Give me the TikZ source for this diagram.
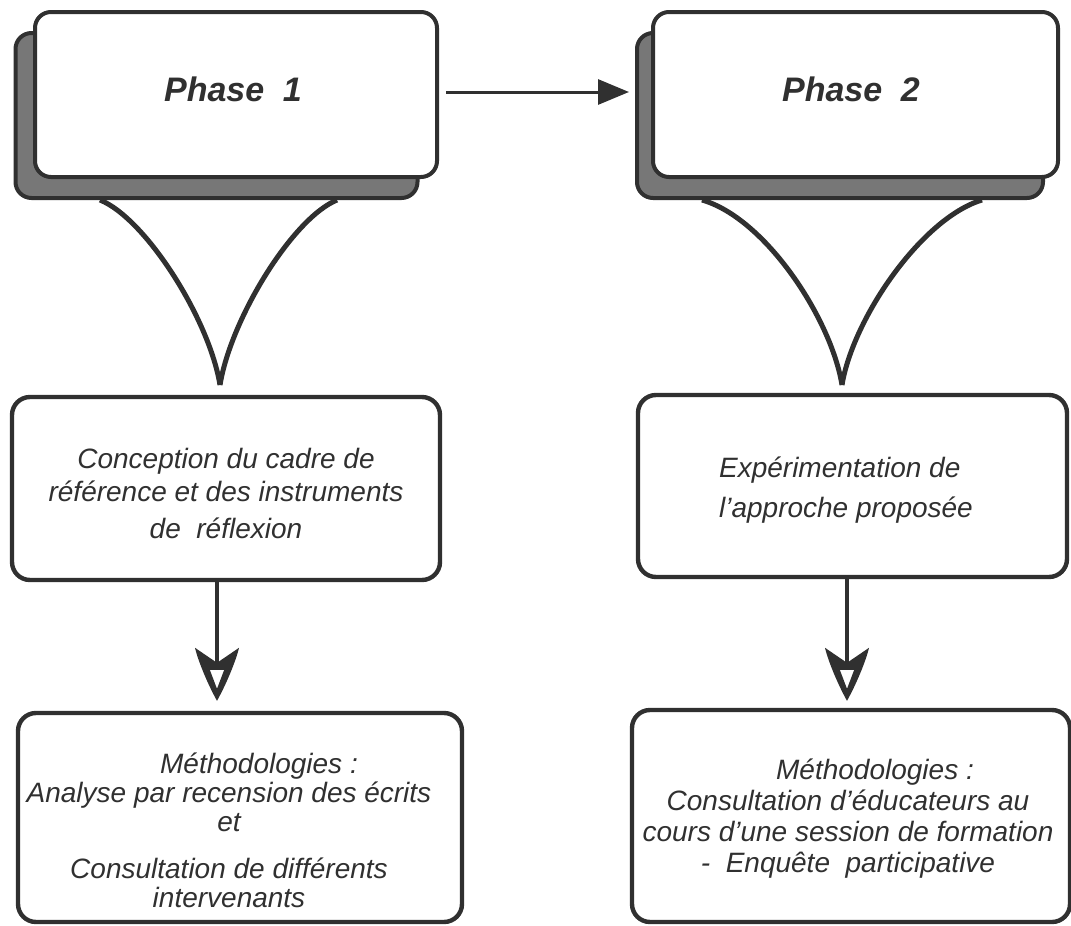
\documentclass[tikz,border=0pt]{standalone}
\usepackage{fontspec}
\setmainfont{Liberation Sans}
\usetikzlibrary{arrows.meta,calc}
\definecolor{ink}{HTML}{303030}
\definecolor{halftone}{HTML}{777777}

% Heavy kite-shaped tip with a small hollow triangle inside
\pgfdeclarearrow{
  name = HollowKite,
  setup code = {
    \pgfarrowssettipend{0pt}
    \pgfarrowssetlineend{-17pt}
    \pgfarrowssetbackend{-26.5pt}
    \pgfarrowshullpoint{0pt}{0pt}
    \pgfarrowshullpoint{-26.5pt}{11pt}
    \pgfarrowshullpoint{-26.5pt}{-11pt}
  },
  drawing code = {
    \pgfsetfillcolor{ink}
    \pgfseteorule
    \pgfpathmoveto{\pgfpoint{0pt}{0pt}}
    \pgfpathcurveto{\pgfpoint{-8pt}{4.5pt}}{\pgfpoint{-20pt}{9.5pt}}{\pgfpoint{-26.5pt}{11pt}}
    \pgfpathlineto{\pgfpoint{-19pt}{0pt}}
    \pgfpathlineto{\pgfpoint{-26.5pt}{-11pt}}
    \pgfpathcurveto{\pgfpoint{-20pt}{-9.5pt}}{\pgfpoint{-8pt}{-4.5pt}}{\pgfpoint{0pt}{0pt}}
    \pgfpathclose
    \pgfpathmoveto{\pgfpoint{-15.5pt}{3.6pt}}
    \pgfpathlineto{\pgfpoint{-6pt}{0pt}}
    \pgfpathlineto{\pgfpoint{-15.5pt}{-3.6pt}}
    \pgfpathclose
    \pgfusepathqfill
  }
}

\begin{document}
\begin{tikzpicture}[x=0.5pt,y=-0.5pt,
  phasefront/.style={draw=ink, line width=2pt, fill=white, rounded corners=8pt,
    minimum width=201pt, minimum height=82.5pt, inner sep=0pt},
  phaseback/.style={phasefront, fill=halftone},
  stepbox/.style={draw=ink, line width=2.2pt, rounded corners=9pt, inner sep=0pt},
  phaselabel/.style={text=ink, font=\fontsize{17}{20}\selectfont\bfseries\itshape, inner sep=0pt},
  boxtext/.style={text=ink, inner sep=0pt, align=center},
  funnel/.style={draw=ink, line width=2.5pt},
  flowarrow/.style={draw=ink, line width=1.5pt, -{Triangle[length=15.5pt,width=12.5pt]}},
  downarrow/.style={draw=ink, line width=2.4pt, -HollowKite}
]
\useasboundingbox (0,0) rectangle (1071,926);

% Phase boxes with their offset shadows
\node[phaseback] (p1back) at (216.5,115.5) {};
\node[phasefront] (p1) at (236,94.5) {};
\node[phaselabel] (p1t) at (233,89) {Phase\hspace{0.55em}1};

\node[phaseback, minimum width=203pt] (p2back) at (840,115.5) {};
\node[phasefront, minimum width=202.5pt] (p2) at (855.5,94.5) {};
\node[phaselabel] (p2t) at (851,89) {Phase\hspace{0.55em}2};

% Middle boxes
\node[stepbox, minimum width=214pt, minimum height=91.5pt] (c1) at (226,488.5) {};
\node[boxtext, font=\fontsize{14}{16.5}\selectfont\itshape] (c1t) at (226,493)
  {Conception du cadre de\\ référence et des instruments\\[2pt] de\ \ réflexion};

\node[stepbox, minimum width=214.5pt, minimum height=91pt] (c2) at (852.5,486) {};
\node[boxtext, align=left, font=\fontsize{14}{20}\selectfont\itshape] (c2t) at (846,490)
  {Expérimentation de\\ l’approche proposée};

% Bottom boxes
\node[stepbox, minimum width=222pt, minimum height=104.5pt] (m1) at (240,817.5) {};
\node[boxtext, font=\fontsize{14}{14.5}\selectfont\itshape] (m1t) at (229,830)
  {\hspace*{30pt}Méthodologies :\\ Analyse par recension des écrits\\ et\\[9pt]
   Consultation de différents\\ intervenants};

\node[stepbox, minimum width=219pt, minimum height=106pt] (m2) at (851,816) {};
\node[boxtext, font=\fontsize{14}{15.5}\selectfont\itshape] (m2t) at (848,819)
  {\hspace*{27pt}Méthodologies :\\ Consultation d’éducateurs au\\
   cours d’une session de formation\\ -\ \ Enquête\ \ participative};

% Phase 1 leads to phase 2
\draw[flowarrow, shorten <=3.5pt, shorten >=3pt]
  ([yshift=1.25pt]p1.east) -- ([yshift=1.25pt]p1.east -| p2back.west);

% Funnels from each phase to its middle box
\coordinate (f1l) at (p1back.south -| 100,0);
\coordinate (f1r) at (p1back.south -| 337,0);
\coordinate (f1t) at (220,385);
\draw[funnel] (f1l) .. controls (145,218) and (209,318) .. (f1t);
\draw[funnel] (f1r) .. controls (293,218) and (231,318) .. (f1t);

\coordinate (f2l) at (p2back.south -| 702,0);
\coordinate (f2r) at (p2back.south -| 982,0);
\coordinate (f2t) at (842,385);
\draw[funnel] (f2l) .. controls (765,218) and (831,318) .. (f2t);
\draw[funnel] (f2r) .. controls (922,218) and (853,318) .. (f2t);

% Middle boxes lead to the methodologies
\draw[downarrow, shorten >=5pt]
  ([xshift=-4.5pt]c1.south) -- ([xshift=-4.5pt]c1.south |- m1.north);
\draw[downarrow, shorten >=3.5pt]
  ([xshift=-2.75pt]c2.south) -- ([xshift=-2.75pt]c2.south |- m2.north);
\end{tikzpicture}
\end{document}
